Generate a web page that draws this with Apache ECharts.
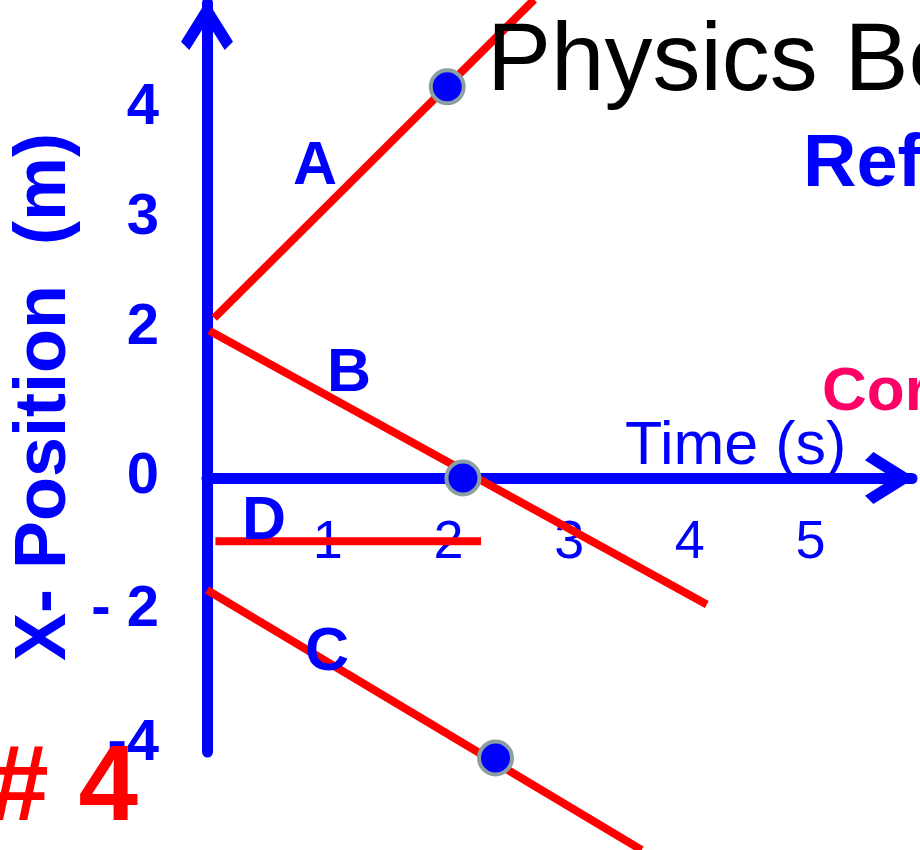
<!DOCTYPE html>
<html>
<head>
<meta charset="utf-8">
<script src="https://cdn.jsdelivr.net/npm/echarts@6/dist/echarts.min.js"></script>
<style>
html,body{margin:0;padding:0;background:#fff;}
#chart{width:920px;height:850px;}
</style>
</head>
<body>
<div id="chart"></div>
<script>
// ---- data ----
const xTickValues = [1, 2, 3, 4, 5];
const yTickValues = [4, 3, 2, 0, -2, -4];
const yTickLabels = ['4', '3', '2', '0', '- 2', '-4'];

const lineA = [[0.06, 2.0], [2.71, 5.98]];
const lineB = [[0.02, 1.84], [4.14, -1.58]];
const lineC = [[0.0, -1.4], [3.6, -4.65]];
const lineD = [[0.07, -0.79], [2.27, -0.79]];
const dotPoints = [[1.99, 4.89], [2.12, 0.0], [2.39, -3.5]];

const lineNames = ['A', 'B', 'C', 'D'];

// ---- styling ----
const BLUE = '#0000FF';
const RED = '#FF0000';
const chevron = 'path://M25,0 L50,40 L42,48 L25,21 L8,48 L0,40 Z';

const upperTicks = yTickValues.filter(v => v > 0);
const lowerTicks = yTickValues.filter(v => v <= 0);
function tickText(v) {
  const i = yTickValues.indexOf(v);
  return i >= 0 ? yTickLabels[i] : '';
}
const labelStyle = {
  margin: 48, color: BLUE, fontFamily: 'Liberation Sans',
  fontWeight: 'bold', fontSize: 58, formatter: tickText
};

const chart = echarts.init(document.getElementById('chart'), null, {renderer: 'canvas'});

function redLine(name, data) {
  return {
    name: name, type: 'line', xAxisIndex: 0, yAxisIndex: 0,
    data: data, showSymbol: false, symbol: 'none', clip: false,
    lineStyle: {color: RED, width: 8, cap: 'butt'},
    z: 3, silent: true, animation: false
  };
}

const option = {
  backgroundColor: '#ffffff',
  animation: false,
  grid: [
    {left: 207, right: 8, top: 3, bottom: 98, containLabel: false},
    {left: 207, right: 8, top: 3, bottom: 372, containLabel: false}
  ],
  xAxis: [
    {
      gridIndex: 0, type: 'value', min: 0, max: 5.84,
      axisLine: {show: false}, axisTick: {show: false},
      splitLine: {show: false}, axisLabel: {show: false}
    },
    {
      gridIndex: 1, type: 'value', min: 0, max: 5.84, position: 'bottom',
      axisLine: {
        show: true, onZero: false,
        lineStyle: {color: BLUE, width: 11},
        symbol: ['none', chevron], symbolSize: [52, 52], symbolOffset: [0, -22]
      },
      axisTick: {show: false},
      splitLine: {show: false},
      axisLabel: {
        customValues: xTickValues, margin: 38, color: BLUE,
        fontFamily: 'Liberation Sans', fontSize: 54
      }
    }
  ],
  yAxis: [
    {
      gridIndex: 0, type: 'value', min: -3.425, max: 5.9375, position: 'left',
      axisLine: {
        show: true, onZero: true,
        lineStyle: {color: BLUE, width: 11},
        symbol: ['none', chevron], symbolSize: [52, 50], symbolOffset: [0, -22]
      },
      axisTick: {show: false}, splitLine: {show: false},
      axisLabel: {show: false}
    },
    {
      gridIndex: 0, type: 'value', min: -1.858, max: 4.952, position: 'left', offset: 0,
      axisLine: {show: false, onZero: false},
      axisTick: {show: false}, splitLine: {show: false},
      axisLabel: Object.assign({customValues: upperTicks}, labelStyle)
    },
    {
      gridIndex: 0, type: 'value', min: -4.127, max: 7.094, position: 'left', offset: 0,
      axisLine: {show: false, onZero: false},
      axisTick: {show: false}, splitLine: {show: false},
      axisLabel: Object.assign({customValues: lowerTicks}, labelStyle)
    },
    {
      gridIndex: 1, type: 'value', min: 0, max: 1, show: false
    }
  ],
  series: [
    redLine(lineNames[0], lineA),
    redLine(lineNames[1], lineB),
    redLine(lineNames[2], lineC),
    redLine(lineNames[3], lineD),
    {
      name: 'points', type: 'scatter', xAxisIndex: 0, yAxisIndex: 0,
      data: dotPoints, symbol: 'circle', symbolSize: 33, clip: false,
      itemStyle: {color: BLUE, borderColor: '#8CA0A4', borderWidth: 4, opacity: 1},
      z: 5, silent: true
    }
  ],
  graphic: [
    {type: 'text', x: 487, y: 64, z: 10,
     style: {text: 'Physics Be', fill: '#000', font: '96px "Liberation Sans"', verticalAlign: 'middle'}},
    {type: 'text', x: 803, y: 166, z: 10,
     style: {text: 'Ref', fill: BLUE, font: 'bold 74px "Liberation Sans"', verticalAlign: 'middle'}},
    {type: 'text', x: 822, y: 393, z: 10,
     style: {text: 'Cor', fill: '#FF0066', font: 'bold 62px "Liberation Sans"', verticalAlign: 'middle'}},
    {type: 'text', x: 625, y: 447, z: 10,
     style: {text: 'Time (s)', fill: BLUE, font: '61px "Liberation Sans"', verticalAlign: 'middle'}},
    {type: 'text', x: 315, y: 167, z: 10,
     style: {text: lineNames[0], fill: BLUE, font: 'bold 61px "Liberation Sans"', align: 'center', verticalAlign: 'middle'}},
    {type: 'text', x: 349, y: 374, z: 10,
     style: {text: lineNames[1], fill: BLUE, font: 'bold 61px "Liberation Sans"', align: 'center', verticalAlign: 'middle'}},
    {type: 'text', x: 327, y: 653, z: 10,
     style: {text: lineNames[2], fill: BLUE, font: 'bold 61px "Liberation Sans"', align: 'center', verticalAlign: 'middle'}},
    {type: 'text', x: 264, y: 522, z: 10,
     style: {text: lineNames[3], fill: BLUE, font: 'bold 61px "Liberation Sans"', align: 'center', verticalAlign: 'middle'}},
    {type: 'text', x: 45, y: 397, rotation: Math.PI / 2, z: 10,
     style: {text: 'X- Position  (m)', fill: BLUE, font: 'bold 72px "Liberation Sans"', align: 'center', verticalAlign: 'middle'}},
    {type: 'text', x: 138, y: 790, z: 10,
     style: {text: '# 4', fill: RED, font: 'bold 107px "Liberation Sans"', align: 'right', verticalAlign: 'middle'}}
  ]
};
chart.setOption(option);
</script>
</body>
</html>
